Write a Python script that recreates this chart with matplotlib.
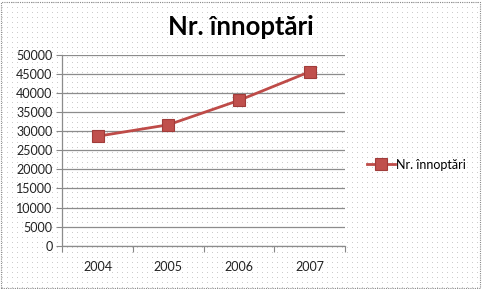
#!/usr/bin/env python3
import matplotlib
matplotlib.use("Agg")
import matplotlib.pyplot as plt
from matplotlib.patches import Rectangle
import numpy as np

years = ["2004", "2005", "2006", "2007"]
nights = [28700, 31700, 38100, 45600]
series_name = "Nr. înnoptări"
title = "Nr. înnoptări"

plt.rcParams['font.family'] = ['Lato', 'DejaVu Sans']

fig = plt.figure(figsize=(4.82, 2.89), dpi=100)
fig.patch.set_facecolor("white")

# dotted paper texture of the original clip art
tex = np.ones((289, 482, 3))
tex[2::5, 2::5] = 0.80
fig.figimage(tex, 0, 0, zorder=-20)

frame = Rectangle((0.003, 0.004), 0.992, 0.99, transform=fig.transFigure,
                  facecolor="none", edgecolor="#8a8a8a",
                  linewidth=0.8, linestyle=(0, (1, 1)), zorder=-10)
fig.patches.append(frame)

ax = fig.add_axes([0.1293, 0.1498, 0.5865, 0.66])
ax.patch.set_alpha(0)

x = list(range(len(years)))
ax.plot(x, nights, color="#be4b48", linewidth=2, marker="s", markersize=8,
        markerfacecolor="#c0504d", markeredgecolor="#a03c3a", markeredgewidth=0.8,
        label=series_name)

ax.set_xlim(-0.5, 3.5)
ax.set_ylim(0, 50000)
ax.set_yticks(range(0, 50001, 5000))
ax.set_xticks([i - 0.5 for i in range(len(years) + 1)], minor=False)
ax.set_xticklabels([])
ax.set_xticks(x, minor=True)
ax.set_xticklabels(years, minor=True)
ax.tick_params(axis="x", which="major", length=4, color="#888888", direction="out")
ax.tick_params(axis="x", which="minor", length=0, pad=11, labelsize=9, labelcolor="#222222")
ax.tick_params(axis="y", length=4, color="#888888", labelsize=9, labelcolor="#222222", pad=3)

ax.yaxis.grid(True, color="#8c8c8c", linewidth=0.9)
ax.set_axisbelow(True)
for s in ["top", "right"]:
    ax.spines[s].set_visible(False)
for s in ["left", "bottom"]:
    ax.spines[s].set_color("#8c8c8c")
    ax.spines[s].set_linewidth(0.9)

fig.text(0.5, 0.905, title, ha="center", va="center", fontsize=18.5, fontweight="bold")

ax.legend(loc="center left", bbox_to_anchor=(0.752, 0.43), bbox_transform=fig.transFigure,
          frameon=False, fontsize=9, handlelength=2.2, handletextpad=0.1,
          borderaxespad=0)

fig.savefig("out.png", dpi=100)
